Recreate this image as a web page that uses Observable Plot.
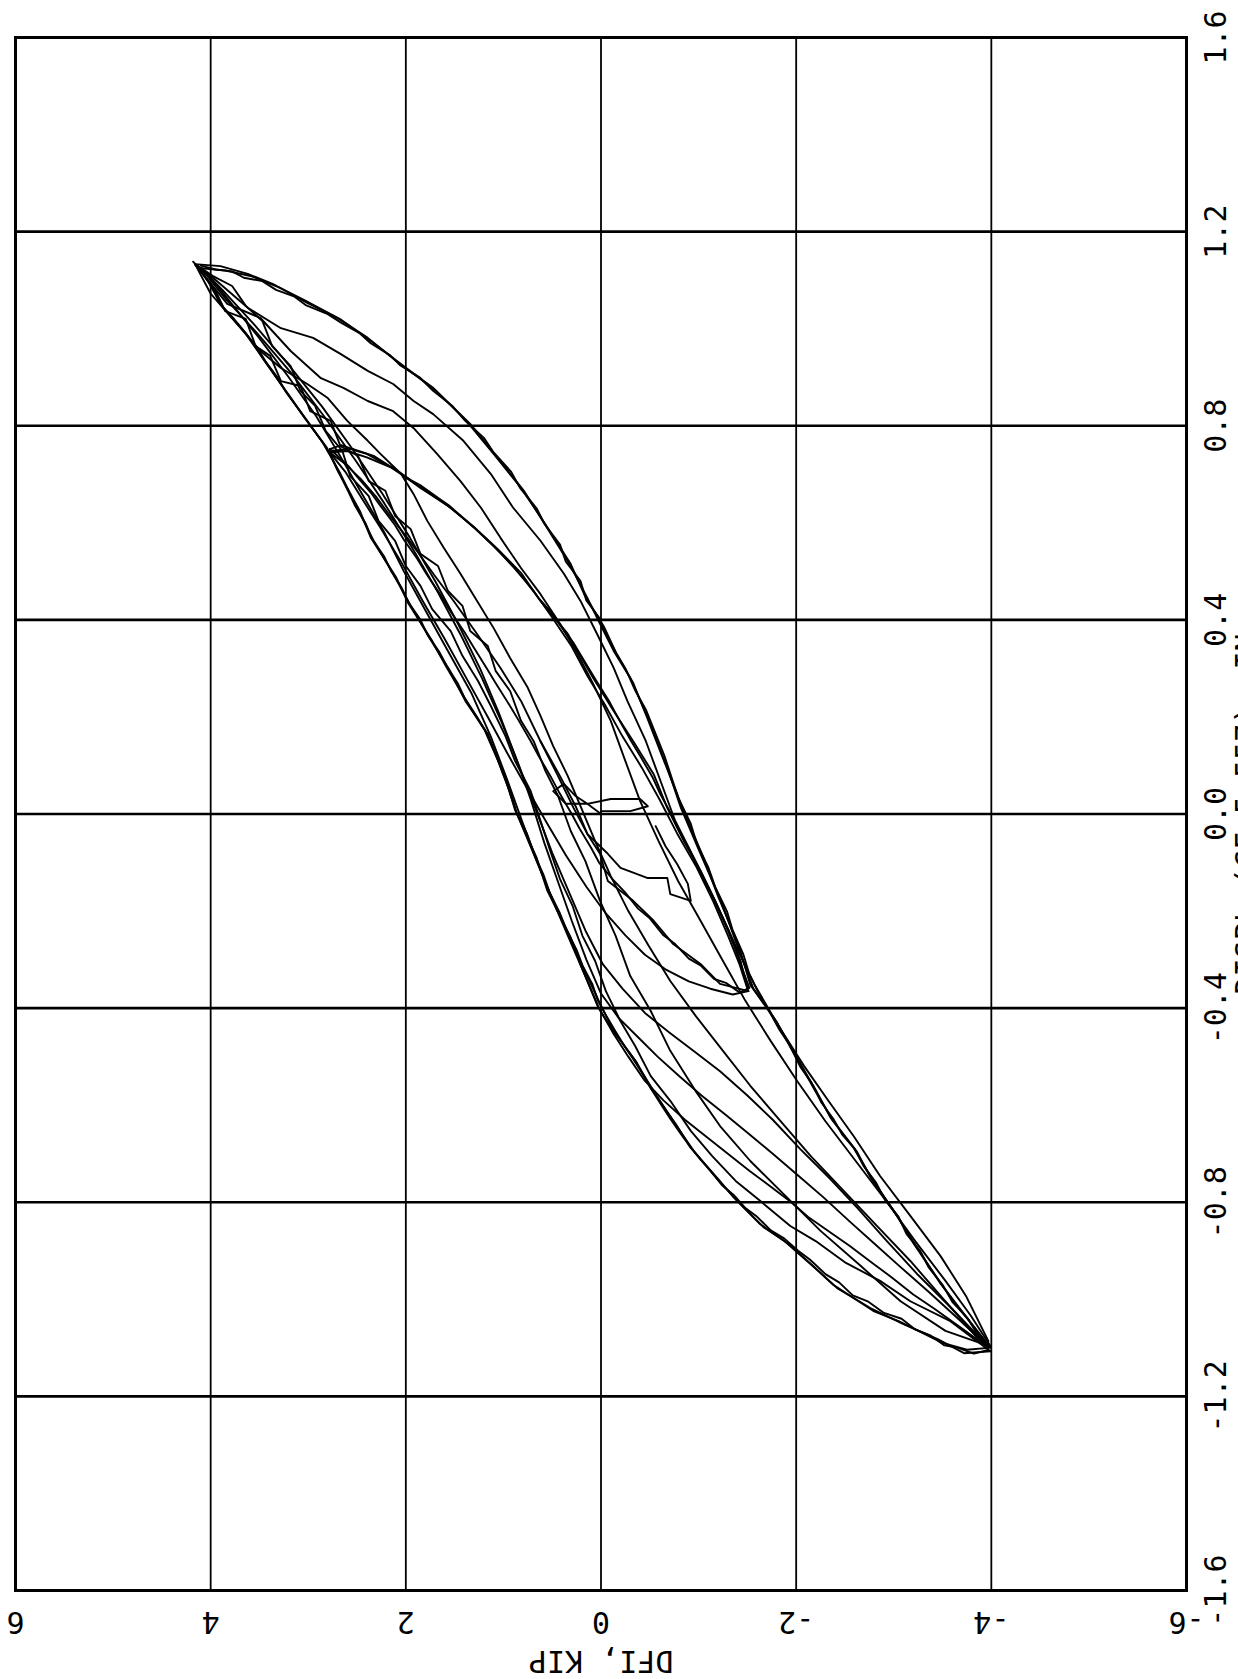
<!DOCTYPE html>
<html>
<head>
<meta charset="utf-8">
<script src="https://cdn.jsdelivr.net/npm/d3@7"></script>
<script src="https://cdn.jsdelivr.net/npm/@observablehq/plot@0.6"></script>
<style>
  html, body { margin: 0; padding: 0; background: #fff; }
  #chart svg { display: block; }
</style>
</head>
<body>
<div id="chart"></div>
<script>
// ---- axis ticks and labels ----
const forceTicks = [6, 4, 2, 0, -2, -4, -6];
const forceLabels = ["6", "4", "2", "0", "-2", "-4", "-6"];
const dispTicks = [1.6, 1.2, 0.8, 0.4, 0.0, -0.4, -0.8, -1.2, -1.6];
const dispLabels = ["1.6", "1.2", "0.8", "0.4", "0.0", "-0.4", "-0.8", "-1.2", "-1.6"];
const forceTitle = "DFI, KIP";
const dispTitle = "DISPL (CF 5-557), IN";

// ---- hysteresis traces: [displacement (in), force (kip)] ----
const bigUnloadOuter = [[1.133,4.16],[1.129,3.90],[1.113,3.62],[1.092,3.36],[1.053,3.01],[1.022,2.70],[0.981,2.39],[0.927,2.06],[0.878,1.72],[0.804,1.34],[0.734,1.06],[0.666,0.79],[0.589,0.55],[0.521,0.34],[0.445,0.14],[0.392,0.01],[0.336,-0.13],[0.280,-0.30],[0.198,-0.48],[0.095,-0.68],[0.012,-0.82],[-0.082,-1.02],[-0.179,-1.23],[-0.262,-1.38],[-0.359,-1.56],[-0.420,-1.77],[-0.488,-1.97],[-0.565,-2.18],[-0.633,-2.38],[-0.688,-2.59],[-0.756,-2.79],[-0.818,-3.00],[-0.894,-3.24],[-0.968,-3.48],[-1.030,-3.72],[-1.100,-3.99]];
const bigLoadOuter = [[-1.107,-3.99],[-1.111,-3.72],[-1.082,-3.45],[-1.051,-3.10],[-1.018,-2.76],[-0.977,-2.42],[-0.927,-2.15],[-0.886,-1.92],[-0.845,-1.63],[-0.798,-1.40],[-0.742,-1.15],[-0.694,-0.95],[-0.633,-0.74],[-0.571,-0.54],[-0.503,-0.33],[-0.447,-0.13],[-0.391,0.01],[-0.317,0.18],[-0.247,0.34],[-0.165,0.52],[-0.082,0.69],[0.000,0.86],[0.082,1.00],[0.165,1.16],[0.233,1.39],[0.299,1.56],[0.367,1.77],[0.429,1.95],[0.495,2.13],[0.563,2.33],[0.631,2.50],[0.701,2.67],[0.762,2.84],[0.810,3.01],[0.865,3.21],[0.927,3.42],[0.995,3.66],[1.043,3.87],[1.092,4.00],[1.133,4.16]];
const bigUnloadOuter2 = [[1.125,4.12],[1.120,3.85],[1.108,3.58],[1.085,3.30],[1.060,3.05],[1.018,2.66],[0.975,2.36],[0.935,2.10],[0.872,1.69],[0.810,1.38],[0.742,1.10],[0.672,0.82],[0.600,0.58],[0.515,0.31],[0.452,0.17],[0.386,-0.03],[0.330,-0.16],[0.270,-0.33],[0.205,-0.46],[0.102,-0.66],[0.005,-0.85],[-0.090,-1.05],[-0.170,-1.20],[-0.270,-1.41],[-0.352,-1.53],[-0.428,-1.80],[-0.480,-1.94],[-0.572,-2.21],[-0.625,-2.35],[-0.695,-2.62],[-0.748,-2.76],[-0.826,-3.03],[-0.887,-3.21],[-0.975,-3.51],[-1.024,-3.69],[-1.092,-3.96]];
const bigLoadOuter2 = [[-1.100,-3.97],[-1.104,-3.75],[-1.090,-3.50],[-1.045,-3.05],[-1.025,-2.80],[-0.970,-2.38],[-0.935,-2.19],[-0.880,-1.88],[-0.852,-1.67],[-0.790,-1.36],[-0.750,-1.19],[-0.688,-0.92],[-0.640,-0.77],[-0.565,-0.51],[-0.510,-0.36],[-0.440,-0.10],[-0.398,0.03],[-0.310,0.21],[-0.255,0.31],[-0.158,0.55],[-0.090,0.66],[0.008,0.88],[0.075,0.98],[0.172,1.19],[0.226,1.36],[0.305,1.59],[0.360,1.74],[0.436,1.98],[0.488,2.10],[0.570,2.36],[0.624,2.47],[0.708,2.70],[0.755,2.81],[0.817,3.04],[0.858,3.18],[0.934,3.45],[0.988,3.63],[1.050,3.90],[1.085,3.98],[1.128,4.13]];
const bigUnloadOuter3 = [[1.130,4.10],[1.122,3.95],[1.118,3.78],[1.105,3.66],[1.098,3.47],[1.080,3.33],[1.066,3.14],[1.048,3.02],[1.030,2.80],[1.012,2.66],[0.990,2.47],[0.970,2.36],[0.945,2.16],[0.925,2.06],[0.900,1.86],[0.872,1.72],[0.840,1.52],[0.812,1.40],[0.775,1.20],[0.745,1.10],[0.705,0.92],[0.672,0.83],[0.630,0.66],[0.598,0.58],[0.555,0.42],[0.520,0.36],[0.480,0.21],[0.440,0.15],[0.405,0.02],[0.370,-0.05],[0.330,-0.16],[0.300,-0.25],[0.255,-0.35],[0.215,-0.46],[0.160,-0.57],[0.120,-0.65],[0.065,-0.74],[0.030,-0.80],[-0.020,-0.92],[-0.060,-0.98],[-0.110,-1.10],[-0.150,-1.17],[-0.200,-1.29],[-0.240,-1.35],[-0.290,-1.46],[-0.330,-1.52],[-0.375,-1.63],[-0.405,-1.72],[-0.445,-1.83],[-0.475,-1.93],[-0.520,-2.04],[-0.555,-2.16],[-0.595,-2.26],[-0.628,-2.38],[-0.660,-2.47],[-0.690,-2.60],[-0.725,-2.69],[-0.760,-2.82],[-0.795,-2.91],[-0.830,-3.05],[-0.865,-3.13],[-0.900,-3.27],[-0.935,-3.36],[-0.970,-3.50],[-1.005,-3.60],[-1.040,-3.76],[-1.070,-3.85],[-1.098,-3.98]];
const bigLoadOuter3 = [[-1.105,-3.96],[-1.112,-3.82],[-1.100,-3.66],[-1.095,-3.52],[-1.075,-3.38],[-1.062,-3.22],[-1.040,-3.08],[-1.028,-2.90],[-1.005,-2.74],[-0.992,-2.58],[-0.965,-2.44],[-0.948,-2.30],[-0.918,-2.14],[-0.900,-2.02],[-0.875,-1.88],[-0.858,-1.74],[-0.830,-1.60],[-0.812,-1.48],[-0.785,-1.36],[-0.765,-1.24],[-0.735,-1.12],[-0.712,-1.02],[-0.682,-0.90],[-0.660,-0.82],[-0.628,-0.71],[-0.600,-0.62],[-0.568,-0.52],[-0.540,-0.44],[-0.505,-0.33],[-0.478,-0.24],[-0.445,-0.14],[-0.418,-0.06],[-0.385,0.03],[-0.350,0.09],[-0.312,0.19],[-0.280,0.25],[-0.240,0.35],[-0.205,0.42],[-0.160,0.53],[-0.125,0.59],[-0.080,0.69],[-0.040,0.76],[0.005,0.87],[0.040,0.92],[0.085,1.01],[0.120,1.07],[0.170,1.18],[0.200,1.27],[0.240,1.40],[0.270,1.47],[0.305,1.58],[0.335,1.66],[0.370,1.78],[0.400,1.85],[0.435,1.97],[0.465,2.04],[0.500,2.15],[0.530,2.22],[0.568,2.35],[0.598,2.41],[0.635,2.52],[0.665,2.59],[0.705,2.69],[0.735,2.76],[0.768,2.86],[0.790,2.94],[0.815,3.03],[0.840,3.12],[0.870,3.23],[0.898,3.31],[0.930,3.43],[0.960,3.52],[0.998,3.67],[1.020,3.76],[1.048,3.89],[1.070,3.95],[1.095,4.02],[1.120,4.10],[1.138,4.18]];
const bigUnloadInner1 = [[1.133,4.16],[1.104,3.97],[1.043,3.62],[1.001,3.28],[0.981,2.95],[0.948,2.67],[0.913,2.39],[0.886,2.13],[0.851,1.92],[0.824,1.72],[0.769,1.41],[0.701,1.13],[0.631,0.90],[0.563,0.62],[0.495,0.38],[0.439,0.21],[0.371,0.04],[0.301,-0.13],[0.233,-0.27],[0.150,-0.46],[0.068,-0.61],[-0.014,-0.76],[-0.097,-0.97],[-0.179,-1.17],[-0.272,-1.38],[-0.354,-1.58],[-0.437,-1.82],[-0.519,-2.08],[-0.591,-2.33],[-0.664,-2.59],[-0.746,-2.86],[-0.828,-3.17],[-0.911,-3.48],[-0.993,-3.74],[-1.086,-3.97]];
const bigUnloadInner2 = [[1.133,4.16],[1.051,3.83],[1.022,3.49],[0.954,3.18],[0.898,2.87],[0.878,2.64],[0.851,2.39],[0.830,2.13],[0.795,1.92],[0.742,1.68],[0.686,1.44],[0.631,1.23],[0.569,1.03],[0.507,0.82],[0.453,0.62],[0.392,0.42],[0.330,0.24],[0.268,0.08],[0.192,-0.10],[0.109,-0.25],[0.027,-0.40],[-0.056,-0.59],[-0.138,-0.79],[-0.220,-1.02],[-0.303,-1.25],[-0.385,-1.48],[-0.468,-1.74],[-0.550,-2.01],[-0.633,-2.30],[-0.715,-2.61],[-0.797,-2.92],[-0.880,-3.22],[-0.962,-3.53],[-1.034,-3.79],[-1.096,-3.99]];
const bigUnloadInner3 = [[1.133,4.16],[1.072,4.00],[1.010,3.73],[0.954,3.49],[0.919,3.28],[0.886,3.01],[0.857,2.80],[0.810,2.60],[0.769,2.39],[0.742,2.26],[0.701,2.05],[0.659,1.92],[0.604,1.78],[0.548,1.61],[0.495,1.44],[0.439,1.27],[0.383,1.10],[0.321,0.93],[0.260,0.75],[0.202,0.62],[0.140,0.49],[0.078,0.34],[0.016,0.21],[-0.056,0.06],[-0.128,-0.10],[-0.200,-0.28],[-0.272,-0.49],[-0.344,-0.71],[-0.416,-0.97],[-0.488,-1.25],[-0.560,-1.53],[-0.633,-1.84],[-0.705,-2.15],[-0.777,-2.49],[-0.849,-2.83],[-0.921,-3.17],[-1.004,-3.53],[-1.076,-3.84],[-1.100,-3.99]];
const bigUnloadInner4 = [[1.133,4.16],[1.078,3.95],[1.036,3.85],[1.020,3.64],[0.964,3.54],[0.944,3.39],[0.892,3.28],[0.882,3.08],[0.830,2.98],[0.810,2.77],[0.758,2.67],[0.738,2.49],[0.686,2.38],[0.666,2.21],[0.614,2.11],[0.587,1.95],[0.536,1.85],[0.511,1.67],[0.460,1.57],[0.429,1.42],[0.377,1.34],[0.346,1.16],[0.295,1.08],[0.253,0.93],[0.192,0.82],[0.150,0.69],[0.089,0.57],[0.037,0.44],[-0.035,0.31],[-0.097,0.16],[-0.179,0.01],[-0.251,-0.15],[-0.334,-0.30],[-0.406,-0.51],[-0.488,-0.71],[-0.571,-0.97],[-0.643,-1.22],[-0.715,-1.53],[-0.787,-1.89],[-0.859,-2.25],[-0.931,-2.66],[-1.004,-3.07],[-1.065,-3.53],[-1.096,-3.97]];
const bigLoadInner1 = [[-1.100,-3.97],[-1.060,-3.70],[-1.020,-3.42],[-0.990,-3.20],[-0.955,-2.98],[-0.925,-2.78],[-0.890,-2.55],[-0.855,-2.30],[-0.830,-2.12],[-0.800,-1.95],[-0.765,-1.72],[-0.735,-1.52],[-0.700,-1.30],[-0.665,-1.08],[-0.630,-0.86],[-0.590,-0.64],[-0.550,-0.45],[-0.500,-0.28],[-0.450,-0.12],[-0.400,0.02],[-0.330,0.17],[-0.260,0.32],[-0.180,0.49],[-0.100,0.65],[-0.020,0.80],[0.070,0.96],[0.160,1.13],[0.250,1.33],[0.340,1.58],[0.420,1.80],[0.500,2.02],[0.580,2.22],[0.660,2.45],[0.740,2.68],[0.820,2.92],[0.900,3.20],[0.980,3.50],[1.050,3.78],[1.100,3.98],[1.130,4.14]];
const bigLoadInner2 = [[-1.095,-3.95],[-1.040,-3.66],[-0.985,-3.36],[-0.930,-3.05],[-0.885,-2.80],[-0.840,-2.55],[-0.790,-2.28],[-0.745,-2.02],[-0.700,-1.76],[-0.660,-1.52],[-0.620,-1.28],[-0.580,-1.03],[-0.540,-0.80],[-0.500,-0.58],[-0.460,-0.38],[-0.420,-0.18],[-0.370,0.00],[-0.300,0.15],[-0.220,0.30],[-0.140,0.44],[-0.060,0.58],[0.030,0.72],[0.120,0.88],[0.210,1.05],[0.300,1.24],[0.390,1.46],[0.480,1.70],[0.570,1.96],[0.660,2.24],[0.750,2.54],[0.840,2.86],[0.930,3.22],[1.010,3.56],[1.080,3.88],[1.125,4.10]];
const bigLoadInner3 = [[-1.090,-3.93],[-1.020,-3.60],[-0.950,-3.25],[-0.880,-2.93],[-0.810,-2.62],[-0.750,-2.34],[-0.690,-2.04],[-0.630,-1.76],[-0.580,-1.50],[-0.530,-1.22],[-0.490,-0.96],[-0.450,-0.70],[-0.410,-0.45],[-0.360,-0.22],[-0.310,-0.02],[-0.240,0.16],[-0.160,0.33],[-0.080,0.50],[0.010,0.67],[0.100,0.84],[0.190,1.02],[0.280,1.22],[0.370,1.44],[0.460,1.68],[0.550,1.94],[0.640,2.22],[0.730,2.52],[0.820,2.84],[0.910,3.18],[0.990,3.52],[1.060,3.84],[1.120,4.08]];
const bigLoadInner4 = [[-1.107,-3.99],[-1.045,-3.58],[-1.004,-3.17],[-0.962,-2.86],[-0.925,-2.51],[-0.880,-2.20],[-0.849,-1.94],[-0.797,-1.63],[-0.756,-1.38],[-0.705,-1.14],[-0.653,-0.92],[-0.591,-0.71],[-0.540,-0.51],[-0.478,-0.35],[-0.427,-0.20],[-0.365,-0.05],[-0.303,0.06],[-0.251,0.19],[-0.190,0.29],[-0.134,0.42],[-0.076,0.52],[-0.014,0.62],[0.047,0.72],[0.109,0.88],[0.161,0.98],[0.223,1.13],[0.274,1.26],[0.326,1.42],[0.377,1.54],[0.422,1.73],[0.470,1.85],[0.511,2.00],[0.563,2.11],[0.604,2.28],[0.655,2.38],[0.696,2.57],[0.748,2.65],[0.789,2.82],[0.841,2.93],[0.872,3.08],[0.923,3.18],[0.964,3.37],[1.016,3.47],[1.047,3.64],[1.088,3.78],[1.109,3.98],[1.133,4.16]];
const midUnload1 = [[0.748,2.80],[0.752,2.54],[0.738,2.33],[0.707,2.09],[0.672,1.85],[0.635,1.57],[0.593,1.31],[0.546,1.06],[0.497,0.82],[0.439,0.62],[0.371,0.34],[0.280,0.08],[0.212,-0.13],[0.150,-0.33],[0.082,-0.54],[0.012,-0.68],[-0.056,-0.85],[-0.117,-1.02],[-0.179,-1.17],[-0.241,-1.31],[-0.303,-1.43],[-0.365,-1.51]];
const midUnload2 = [[0.745,2.78],[0.748,2.60],[0.735,2.40],[0.715,2.16],[0.690,1.97],[0.660,1.75],[0.628,1.52],[0.590,1.30],[0.552,1.10],[0.510,0.90],[0.462,0.70],[0.405,0.50],[0.345,0.30],[0.285,0.14],[0.225,-0.04],[0.160,-0.22],[0.095,-0.42],[0.030,-0.60],[-0.040,-0.78],[-0.110,-0.98],[-0.180,-1.15],[-0.250,-1.30],[-0.310,-1.42],[-0.360,-1.50]];
const midUnload3 = [[0.752,2.78],[0.760,2.66],[0.748,2.50],[0.742,2.40],[0.722,2.22],[0.712,2.12],[0.688,1.95],[0.676,1.84],[0.650,1.66],[0.636,1.56],[0.608,1.40],[0.590,1.30],[0.560,1.14],[0.540,1.04],[0.505,0.88],[0.482,0.78],[0.445,0.64],[0.420,0.53],[0.378,0.38],[0.352,0.28],[0.305,0.14],[0.275,0.05],[0.230,-0.09],[0.200,-0.17],[0.150,-0.31],[0.120,-0.40],[0.075,-0.53],[0.040,-0.61],[0.000,-0.72],[-0.035,-0.80],[-0.080,-0.92],[-0.115,-1.00],[-0.160,-1.12],[-0.195,-1.20],[-0.240,-1.30],[-0.275,-1.37],[-0.320,-1.45],[-0.358,-1.52]];
const midLoad1 = [[-0.365,-1.51],[-0.350,-1.22],[-0.309,-1.02],[-0.268,-0.74],[-0.220,-0.54],[-0.179,-0.33],[-0.138,-0.07],[-0.082,0.01],[-0.041,0.14],[0.012,0.28],[0.082,0.45],[0.150,0.62],[0.233,0.82],[0.301,1.03],[0.371,1.27],[0.439,1.51],[0.490,1.70],[0.532,1.85],[0.573,2.00],[0.614,2.16],[0.655,2.31],[0.690,2.46],[0.721,2.62],[0.748,2.80]];
const midLoad2 = [[-0.365,-1.51],[-0.372,-1.35],[-0.360,-1.12],[-0.345,-0.90],[-0.320,-0.66],[-0.290,-0.45],[-0.250,-0.25],[-0.205,-0.05],[-0.150,0.15],[-0.085,0.36],[-0.020,0.55],[0.050,0.75],[0.125,0.96],[0.200,1.16],[0.280,1.38],[0.360,1.60],[0.440,1.83],[0.520,2.05],[0.590,2.26],[0.650,2.45],[0.705,2.62],[0.740,2.76]];
const midLoad3 = [[-0.358,-1.52],[-0.368,-1.42],[-0.348,-1.28],[-0.340,-1.16],[-0.312,-1.02],[-0.298,-0.90],[-0.268,-0.76],[-0.250,-0.64],[-0.215,-0.50],[-0.195,-0.38],[-0.160,-0.24],[-0.135,-0.12],[-0.100,0.02],[-0.070,0.10],[-0.030,0.22],[0.000,0.30],[0.045,0.43],[0.075,0.51],[0.120,0.64],[0.150,0.72],[0.195,0.85],[0.225,0.94],[0.270,1.08],[0.300,1.17],[0.345,1.31],[0.375,1.40],[0.420,1.55],[0.450,1.64],[0.495,1.79],[0.525,1.88],[0.565,2.02],[0.595,2.11],[0.635,2.26],[0.660,2.35],[0.695,2.50],[0.715,2.58],[0.738,2.70],[0.752,2.78]];
const startTrace = [[0.000,0.00],[0.021,0.14],[0.021,0.36],[0.047,0.49],[0.062,0.38],[0.037,0.26],[0.021,0.14],[0.031,-0.10],[0.031,-0.40],[0.016,-0.48],[0.006,-0.30],[0.006,0.00]];
const reversalTrace = [[0.150,0.62],[0.078,0.42],[0.016,0.26],[-0.041,0.14],[-0.082,-0.07],[-0.111,-0.20],[-0.132,-0.48],[-0.132,-0.68],[-0.165,-0.71],[-0.179,-0.92],[-0.144,-0.89],[-0.103,-0.78],[-0.066,-0.66],[-0.025,-0.56]];

const traces = {
  bigUnloadOuter, bigLoadOuter, bigUnloadOuter2, bigLoadOuter2, bigUnloadOuter3, bigLoadOuter3,
  bigUnloadInner1, bigUnloadInner2, bigUnloadInner3, bigUnloadInner4,
  bigLoadInner1, bigLoadInner2, bigLoadInner3, bigLoadInner4,
  midUnload1, midUnload2, midUnload3, midLoad1, midLoad2, midLoad3,
  startTrace, reversalTrace
};
const rows = Object.entries(traces).flatMap(([id, pts]) =>
  pts.map(([disp, force]) => ({id, disp, force})));

const font = "'DejaVu Sans Mono', monospace";
const txt = {fontSize: 30, fontFamily: font, fill: "#000", textAnchor: "middle", lineAnchor: "middle"};

const chart = Plot.plot({
  width: 1238,
  height: 1679,
  marginLeft: 15,
  marginRight: 52,
  marginTop: 37,
  marginBottom: 89,
  style: {background: "#fff", color: "#000"},
  x: {domain: [6, -6], axis: null},
  y: {domain: [-1.6, 1.6], axis: null},
  marks: [
    Plot.ruleX(forceTicks, {stroke: "#000", strokeWidth: 1.8}),
    Plot.ruleY(dispTicks, {stroke: "#000", strokeWidth: 2.6}),
    Plot.frame({stroke: "#000", strokeWidth: 3}),
    Plot.line(rows, {x: "force", y: "disp", z: "id", stroke: "#000", strokeWidth: 1.9, curve: "linear", strokeLinejoin: "round"}),
    Plot.text(forceTicks, {...txt, x: d => d, text: (d, i) => forceLabels[i], frameAnchor: "bottom", dy: 31, rotate: 180}),
    Plot.text(dispTicks, {...txt, y: d => d, text: (d, i) => dispLabels[i], frameAnchor: "right", dx: 30, rotate: -90}),
    Plot.text([forceTitle], {...txt, frameAnchor: "bottom", dy: 70, rotate: 180}),
    Plot.text([dispTitle], {...txt, frameAnchor: "right", dx: 61, rotate: -90})
  ]
});
document.getElementById("chart").appendChild(chart);
</script>
</body>
</html>
